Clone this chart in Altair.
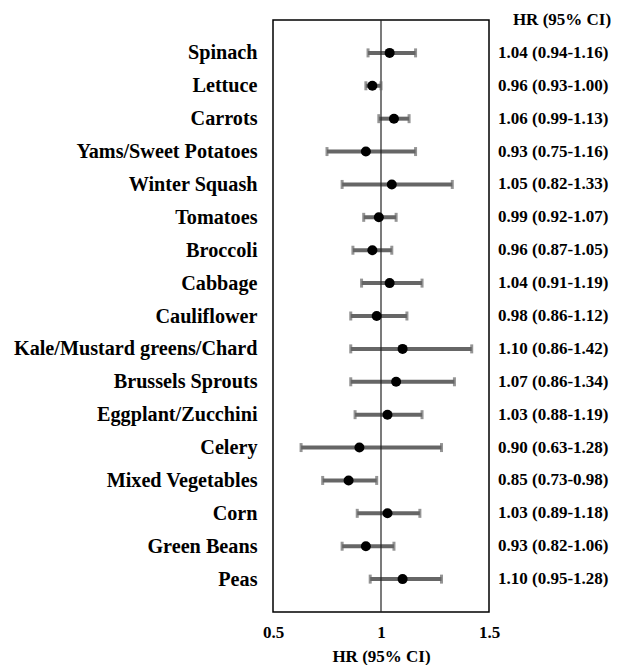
import altair as alt
import pandas as pd

foods = ["Spinach", "Lettuce", "Carrots", "Yams/Sweet Potatoes", "Winter Squash",
         "Tomatoes", "Broccoli", "Cabbage", "Cauliflower", "Kale/Mustard greens/Chard",
         "Brussels Sprouts", "Eggplant/Zucchini", "Celery", "Mixed Vegetables", "Corn",
         "Green Beans", "Peas"]
hr = [1.04, 0.96, 1.06, 0.93, 1.05, 0.99, 0.96, 1.04, 0.98, 1.10, 1.07, 1.03, 0.90, 0.85, 1.03, 0.93, 1.10]
lo = [0.94, 0.93, 0.99, 0.75, 0.82, 0.92, 0.87, 0.91, 0.86, 0.86, 0.86, 0.88, 0.63, 0.73, 0.89, 0.82, 0.95]
hi = [1.16, 1.00, 1.13, 1.16, 1.33, 1.07, 1.05, 1.19, 1.12, 1.42, 1.34, 1.19, 1.28, 0.98, 1.18, 1.06, 1.28]

df = pd.DataFrame({
    "food": foods,
    "row": list(range(1, len(foods) + 1)),
    "hr": hr,
    "lo": lo,
    "hi": hi,
})
df["label"] = [f"{h:.2f} ({l:.2f}-{u:.2f})" for h, l, u in zip(hr, lo, hi)]

FONT = "Liberation Serif"
label_list = "[" + ",".join(["''"] + [f"'{f}'" for f in foods] + ["''"]) + "]"

xscale = alt.Scale(domain=[0.5, 1.5], nice=False, zero=False)
yscale = alt.Scale(domain=[0, 18], reverse=True, nice=False, zero=False)

yaxis = alt.Axis(values=list(range(1, 18)), labelExpr=label_list + "[datum.value]",
                 title=None, domain=False, ticks=False, grid=False,
                 labelOverlap=False, labelBound=False, labelFlush=False, labelLimit=400,
                 labelFont=FONT, labelFontWeight="bold", labelFontSize=20.2,
                 labelColor="black", labelPadding=16)
yenc = alt.Y("row:Q", scale=yscale, axis=yaxis)

xaxis = alt.Axis(values=[0.5, 1, 1.5], format="~g", title="HR (95% CI)",
                 domain=False, ticks=False, grid=False, labelOverlap=False, labelFlush=False,
                 labelFont=FONT, labelFontWeight="bold", labelFontSize=17,
                 labelColor="black", labelPadding=12,
                 titleFont=FONT, titleFontWeight="bold", titleFontSize=17,
                 titleColor="black", titlePadding=8)

base = alt.Chart(df)

GRAY = "#666666"

bars = base.mark_rule(color=GRAY, strokeWidth=4).encode(
    x=alt.X("lo:Q", scale=xscale, axis=xaxis), x2="hi:Q", y=yenc)

ref = alt.Chart(pd.DataFrame({"x": [1.0]})).mark_rule(color="#222222", strokeWidth=1.2).encode(
    x=alt.X("x:Q", scale=xscale, axis=xaxis))

caps_lo = base.mark_tick(orient="vertical", color=GRAY, thickness=3, size=9).encode(
    x=alt.X("lo:Q", scale=xscale, axis=xaxis), y=yenc)
caps_hi = base.mark_tick(orient="vertical", color=GRAY, thickness=3, size=9).encode(
    x=alt.X("hi:Q", scale=xscale, axis=xaxis), y=yenc)

pts = base.mark_circle(color="black", size=100, opacity=1).encode(
    x=alt.X("hr:Q", scale=xscale, axis=xaxis), y=yenc)

vals = base.mark_text(align="left", baseline="middle", font=FONT, fontWeight="bold",
                      fontSize=17, color="black").encode(
    x=alt.value(225), y=yenc, text="label:N")

header = alt.Chart(pd.DataFrame({"row": [0], "t": ["HR (95% CI)"]})).mark_text(
    align="center", baseline="middle", font=FONT, fontWeight="bold", fontSize=17,
    color="black").encode(x=alt.value(289), y=yenc, text="t:N")

chart = alt.layer(bars, ref, caps_lo, caps_hi, pts, vals, header).properties(
    width=216, height=592,
    autosize=alt.AutoSizeParams(type="none"),
    padding={"left": 265, "top": 12, "right": 122, "bottom": 53},
).configure(background="white").configure_view(stroke="black", strokeWidth=1.5)

chart.save("out.html", embed_options={"renderer": "svg", "actions": False})
